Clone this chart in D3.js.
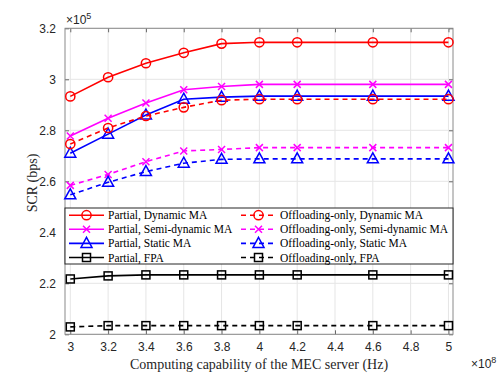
<!DOCTYPE html>
<html><head><meta charset="utf-8">
<script src="https://cdn.jsdelivr.net/npm/d3@7"></script>
<style>body{margin:0;background:#fff}svg{display:block}</style>
</head><body>
<script>
const xVals = [3, 3.2, 3.4, 3.6, 3.8, 4, 4.2, 4.6, 5];
const xTicks = [3, 3.2, 3.4, 3.6, 3.8, 4, 4.2, 4.4, 4.6, 4.8, 5];
const yTicks = [2, 2.2, 2.4, 2.6, 2.8, 3, 3.2];
const partialDynamic = [2.933, 3.008, 3.063, 3.104, 3.140, 3.145, 3.145, 3.145, 3.145];
const partialSemi    = [2.778, 2.847, 2.907, 2.959, 2.972, 2.980, 2.980, 2.980, 2.980];
const partialStatic  = [2.710, 2.785, 2.860, 2.922, 2.930, 2.934, 2.934, 2.934, 2.934];
const partialFPA     = [2.217, 2.229, 2.233, 2.233, 2.233, 2.233, 2.233, 2.233, 2.233];
const offDynamic     = [2.746, 2.809, 2.856, 2.890, 2.918, 2.922, 2.922, 2.922, 2.922];
const offSemi        = [2.584, 2.627, 2.677, 2.719, 2.725, 2.732, 2.732, 2.732, 2.732];
const offStatic      = [2.547, 2.596, 2.638, 2.671, 2.686, 2.688, 2.688, 2.688, 2.688];
const offFPA         = [2.029, 2.034, 2.034, 2.034, 2.034, 2.034, 2.034, 2.034, 2.034];
const seriesNames = ["Partial, Dynamic MA","Partial, Semi-dynamic MA","Partial, Static MA","Partial, FPA",
  "Offloading-only, Dynamic MA","Offloading-only, Semi-dynamic MA","Offloading-only, Static MA","Offloading-only, FPA"];

const series = [
  {name: seriesNames[0], v: partialDynamic, c: "#ff0000", m: "circle", dash: false},
  {name: seriesNames[1], v: partialSemi, c: "#ff00ff", m: "x", dash: false},
  {name: seriesNames[2], v: partialStatic, c: "#0000ff", m: "tri", dash: false},
  {name: seriesNames[3], v: partialFPA, c: "#000000", m: "square", dash: false},
  {name: seriesNames[4], v: offDynamic, c: "#ff0000", m: "circle", dash: true},
  {name: seriesNames[5], v: offSemi, c: "#ff00ff", m: "x", dash: true},
  {name: seriesNames[6], v: offStatic, c: "#0000ff", m: "tri", dash: true},
  {name: seriesNames[7], v: offFPA, c: "#000000", m: "square", dash: true}
];

const W = 501, H = 376;
const L = 65, R = 453, T = 28.3, B = 334.3;
const svg = d3.select("body").append("svg").attr("width", W).attr("height", H);
const x = d3.scaleLinear().domain([2.972, 5.024]).range([L, R]);
const y = d3.scaleLinear().domain([2, 3.2]).range([B, T]);

// grid
const g = svg.append("g");
g.selectAll(".gx").data(xTicks).enter().append("line")
  .attr("x1", d => x(d)).attr("x2", d => x(d)).attr("y1", T).attr("y2", B)
  .attr("stroke", "#e5e5e5").attr("stroke-width", 1);
g.selectAll(".gy").data(yTicks).enter().append("line")
  .attr("y1", d => y(d)).attr("y2", d => y(d)).attr("x1", L).attr("x2", R)
  .attr("stroke", "#e5e5e5").attr("stroke-width", 1);

// axes
const axColor = "#8a8a8a";
const xAxis = d3.axisBottom(x).tickValues(xTicks).tickSize(-4).tickPadding(8).tickFormat(d3.format("~g"));
const yAxis = d3.axisLeft(y).tickValues(yTicks).tickSize(-4).tickPadding(9).tickFormat(d3.format("~g"));
const xa = svg.append("g").attr("transform", `translate(0,${B})`).call(xAxis);
const ya = svg.append("g").attr("transform", `translate(${L},0)`).call(yAxis);
const xt = svg.append("g").attr("transform", `translate(0,${T})`).call(d3.axisTop(x).tickValues(xTicks).tickSize(-4).tickFormat(""));
const yr = svg.append("g").attr("transform", `translate(${R},0)`).call(d3.axisRight(y).tickValues(yTicks).tickSize(-4).tickFormat(""));
[xa, ya, xt, yr].forEach(a => {
  a.select(".domain").remove();
  a.selectAll(".tick line").attr("stroke", "#444").attr("stroke-width", 0.8);
  a.selectAll("text").attr("font-family", "Liberation Sans, Arial, sans-serif").attr("font-size", 12).attr("fill", "#262626");
});
svg.append("rect").attr("x", L).attr("y", T).attr("width", R - L).attr("height", B - T)
  .attr("fill", "none").attr("stroke", axColor).attr("stroke-width", 1);

// exponents
const e5 = svg.append("text").attr("x", 66).attr("y", 24).attr("font-family", "Liberation Sans, Arial, sans-serif")
  .attr("font-size", 12).attr("fill", "#262626");
e5.append("tspan").text("×10");
e5.append("tspan").attr("dy", -5).attr("font-size", 9).text("5");
const e8 = svg.append("text").attr("x", 471).attr("y", 368).attr("font-family", "Liberation Sans, Arial, sans-serif")
  .attr("font-size", 12).attr("fill", "#262626");
e8.append("tspan").text("×10");
e8.append("tspan").attr("dy", -5).attr("font-size", 9).text("8");

// labels
svg.append("text").attr("x", 259).attr("y", 369).attr("text-anchor", "middle")
  .attr("font-family", "Liberation Serif, Times New Roman, serif").attr("font-size", 14).attr("fill", "#262626")
  .text("Computing capability of the MEC server (Hz)");
svg.append("text").attr("transform", "translate(37,183) rotate(-90)").attr("text-anchor", "middle")
  .attr("font-family", "Liberation Serif, Times New Roman, serif").attr("font-size", 14).attr("fill", "#262626")
  .text("SCR (bps)");

function marker(sel, type, color) {
  if (type === "circle") {
    sel.append("circle").attr("r", 4.6).attr("fill", "none").attr("stroke", color).attr("stroke-width", 1.5);
  } else if (type === "x") {
    sel.append("path").attr("d", "M-3.5,-3.5L3.5,3.5M-3.5,3.5L3.5,-3.5").attr("stroke", color).attr("stroke-width", 1.5);
  } else if (type === "tri") {
    sel.append("path").attr("d", "M0,-6L5.5,4L-5.5,4Z").attr("fill", "none").attr("stroke", color).attr("stroke-width", 1.5);
  } else {
    sel.append("rect").attr("x", -4).attr("y", -4).attr("width", 8).attr("height", 8)
      .attr("fill", "none").attr("stroke", color).attr("stroke-width", 1.5);
  }
}

const line = d3.line().x((d, i) => x(xVals[i])).y(d => y(d));
const plot = svg.append("g");
series.forEach(s => {
  plot.append("path").datum(s.v).attr("d", line).attr("fill", "none").attr("stroke", s.c)
    .attr("stroke-width", 1.6).attr("stroke-dasharray", s.dash ? "5,4" : null);
  s.v.forEach((v, i) => {
    const mg = plot.append("g").attr("transform", `translate(${x(xVals[i])},${y(v)})`);
    marker(mg, s.m, s.c);
  });
});

// legend
const lg = svg.append("g");
lg.append("rect").attr("x", 65).attr("y", 208).attr("width", 388).attr("height", 56)
  .attr("fill", "#fff").attr("stroke", "#262626").attr("stroke-width", 1);
const rowY = [215.2, 229.3, 243.4, 257.5];
series.forEach((s, k) => {
  const col = k < 4 ? 0 : 1;
  const row = k % 4;
  const x0 = col === 0 ? 69 : 241;
  const yy = rowY[row];
  lg.append("line").attr("x1", x0).attr("x2", x0 + 35).attr("y1", yy).attr("y2", yy)
    .attr("stroke", s.c).attr("stroke-width", 1.6).attr("stroke-dasharray", s.dash ? "5,4" : null);
  const mg = lg.append("g").attr("transform", `translate(${x0 + 17.5},${yy})`);
  marker(mg, s.m, s.c);
  lg.append("text").attr("x", x0 + 39).attr("y", yy + 4).attr("font-family", "Liberation Serif, Times New Roman, serif")
    .attr("font-size", 11.5).attr("fill", "#000").text(s.name);
});
</script>
</body></html>
